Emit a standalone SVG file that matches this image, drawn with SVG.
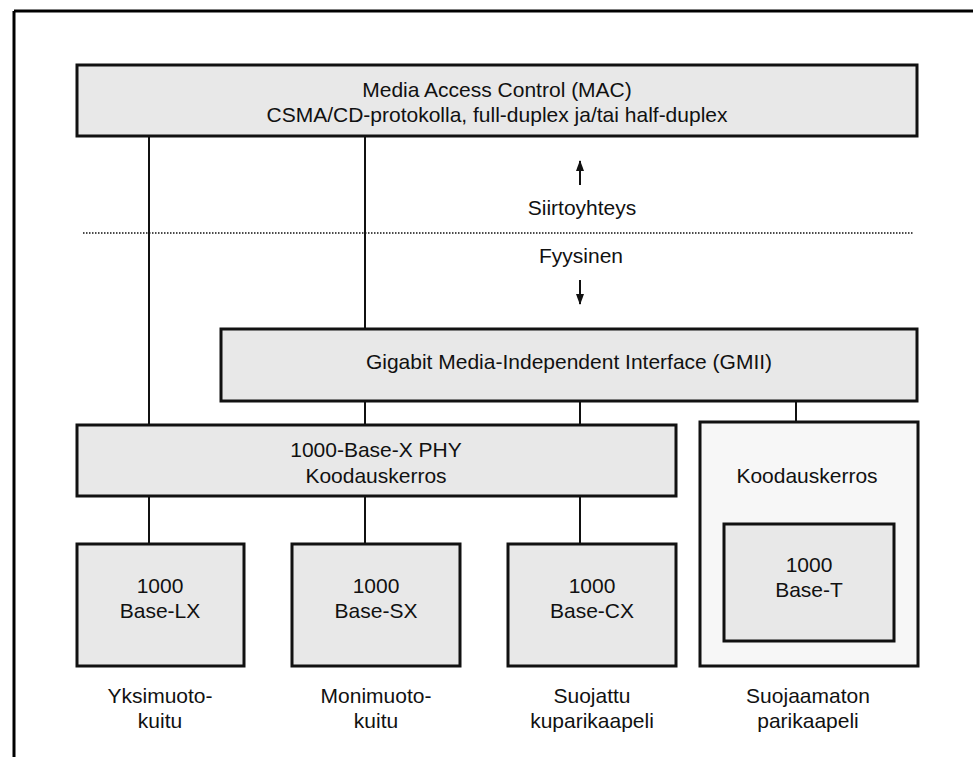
<svg xmlns="http://www.w3.org/2000/svg" width="973" height="757" viewBox="0 0 973 757">
  <style>
    .box { fill: #e8e8e8; stroke: #111; stroke-width: 3; }
    .outer { fill: #f7f7f7; stroke: #111; stroke-width: 3; }
    .link { stroke: #111; stroke-width: 2; fill: none; }
    text { font-family: "Liberation Sans", Arial, sans-serif; font-size: 21px; fill: #111; text-anchor: middle; }
  </style>
  <defs>
    <marker id="head" viewBox="0 0 11 8" refX="10" refY="4" markerWidth="11" markerHeight="8" markerUnits="userSpaceOnUse" orient="auto">
      <path d="M0,0 L11,4 L0,8 Z" fill="#111"/>
    </marker>
  </defs>
  <rect width="973" height="757" fill="#fff"/>

  <!-- frame: top and left rules -->
  <path d="M14,11 H973 M14,11 V757" stroke="#000" stroke-width="3" fill="none"/>

  <!-- connectors -->
  <g id="connectors">
    <line class="link" x1="149" y1="136" x2="149" y2="424"/>
    <line class="link" x1="365" y1="136" x2="365" y2="328"/>
    <line class="link" x1="365" y1="401" x2="365" y2="424"/>
    <line class="link" x1="580" y1="401" x2="580" y2="424"/>
    <line class="link" x1="796" y1="401" x2="796" y2="421"/>
    <line class="link" x1="149" y1="496" x2="149" y2="543"/>
    <line class="link" x1="365" y1="496" x2="365" y2="543"/>
    <line class="link" x1="580" y1="496" x2="580" y2="543"/>
    <line class="link" x1="580" y1="185" x2="580" y2="161" marker-end="url(#head)"/>
    <line class="link" x1="580" y1="280" x2="580" y2="304" marker-end="url(#head)"/>
  </g>

  <!-- layer boundary -->
  <g id="boundary">
    <line x1="83" y1="233" x2="914" y2="233" stroke="#111" stroke-width="1.5" stroke-dasharray="1.5 1.5"/>
    <text x="582" y="215">Siirtoyhteys</text>
    <text x="581" y="263">Fyysinen</text>
  </g>

  <g id="mac">
    <rect class="box" x="77" y="65" width="840" height="71"/>
    <text x="497" y="97">Media Access Control (MAC)</text>
    <text x="497" y="122">CSMA/CD-protokolla, full-duplex ja/tai half-duplex</text>
  </g>

  <g id="gmii">
    <rect class="box" x="221" y="329" width="696" height="72"/>
    <text x="569" y="369">Gigabit Media-Independent Interface (GMII)</text>
  </g>

  <g id="phy">
    <rect class="box" x="77" y="425" width="599" height="71"/>
    <text x="376" y="457">1000-Base-X PHY</text>
    <text x="376" y="483">Koodauskerros</text>
  </g>

  <g id="coding-t">
    <rect class="outer" x="700" y="422" width="218" height="244"/>
    <text x="807" y="483">Koodauskerros</text>
  </g>

  <g id="base-t">
    <rect class="box" x="724" y="524" width="170" height="117"/>
    <text x="809" y="572">1000</text>
    <text x="809" y="597">Base-T</text>
  </g>

  <g id="base-lx">
    <rect class="box" x="77" y="544" width="167" height="122"/>
    <text x="160" y="593">1000</text>
    <text x="160" y="618">Base-LX</text>
  </g>

  <g id="base-sx">
    <rect class="box" x="292" y="544" width="168" height="122"/>
    <text x="376" y="593">1000</text>
    <text x="376" y="618">Base-SX</text>
  </g>

  <g id="base-cx">
    <rect class="box" x="508" y="544" width="168" height="122"/>
    <text x="592" y="593">1000</text>
    <text x="592" y="618">Base-CX</text>
  </g>

  <!-- media labels -->
  <g id="media">
    <text x="160" y="703">Yksimuoto-</text>
    <text x="160" y="728">kuitu</text>
    <text x="376" y="703">Monimuoto-</text>
    <text x="376" y="728">kuitu</text>
    <text x="592" y="703">Suojattu</text>
    <text x="592" y="728">kuparikaapeli</text>
    <text x="808" y="703">Suojaamaton</text>
    <text x="808" y="728">parikaapeli</text>
  </g>
</svg>
